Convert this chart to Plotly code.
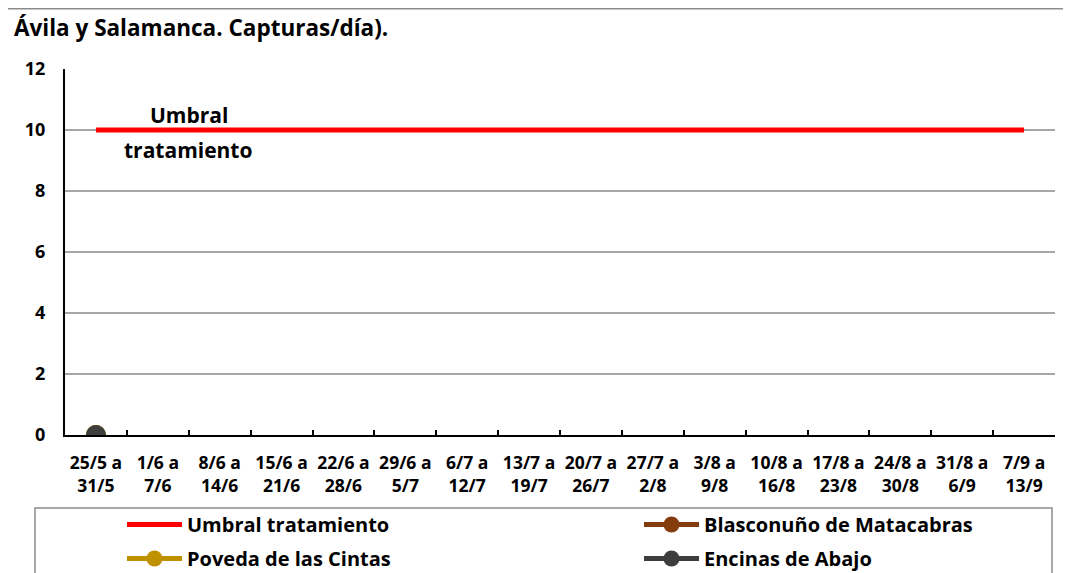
import plotly.graph_objects as go

# Semanas de muestreo (eje X)
semanas = [
    "25/5 a<br>31/5", "1/6 a<br>7/6", "8/6 a<br>14/6", "15/6 a<br>21/6",
    "22/6 a<br>28/6", "29/6 a<br>5/7", "6/7 a<br>12/7", "13/7 a<br>19/7",
    "20/7 a<br>26/7", "27/7 a<br>2/8", "3/8 a<br>9/8", "10/8 a<br>16/8",
    "17/8 a<br>23/8", "24/8 a<br>30/8", "31/8 a<br>6/9", "7/9 a<br>13/9",
]

# Capturas/día por localidad
umbral = [10, 10, 10, 10, 10, 10, 10, 10, 10, 10, 10, 10, 10, 10, 10, 10]
blasconuno = [0, None, None, None, None, None, None, None,
              None, None, None, None, None, None, None, None]
poveda = [0, None, None, None, None, None, None, None,
          None, None, None, None, None, None, None, None]
encinas = [0, None, None, None, None, None, None, None,
           None, None, None, None, None, None, None, None]

y_ticks = [0, 2, 4, 6, 8, 10, 12]

FONT = "Open Sans"
OFF = 8  # margen del body de la página
W, H = 1071 - OFF, 573 - OFF
L, R, T, B = 65 - OFF, 16, 69 - OFF, 573 - 435
PW, PH = W - L - R, H - T - B


# posiciones medidas sobre la imagen original -> coordenadas paper
def px_x(px):
    return (px - OFF - L) / PW


def px_y(py):
    return (H - B - (py - OFF)) / PH


fig = go.Figure()
fig.add_trace(go.Scatter(x=semanas, y=umbral, name="Umbral tratamiento",
                         mode="lines", line=dict(color="#ff0000", width=5),
                         legend="legend", legendgroup="a"))
fig.add_trace(go.Scatter(x=semanas, y=blasconuno, name="Blasconuño de Matacabras",
                         mode="lines+markers",
                         line=dict(color="#843c0c", width=5),
                         marker=dict(color="#843c0c", size=20),
                         legend="legend2", legendgroup="b"))
fig.add_trace(go.Scatter(x=semanas, y=poveda, name="Poveda de las Cintas",
                         mode="lines+markers",
                         line=dict(color="#bf9000", width=5),
                         marker=dict(color="#bf9000", size=20),
                         legend="legend", legendgroup="c"))
fig.add_trace(go.Scatter(x=semanas, y=encinas, name="Encinas de Abajo",
                         mode="lines+markers",
                         line=dict(color="#3d3d3d", width=5),
                         marker=dict(color="#3d3d3d", size=20),
                         legend="legend2", legendgroup="d"))

# etiqueta del umbral
fig.add_annotation(x=1.5, y=10.49, text="Umbral", showarrow=False,
                   font=dict(size=21, color="black", family=FONT, weight="bold"))
fig.add_annotation(x=1.5, y=9.34, text="tratamiento", showarrow=False,
                   font=dict(size=21, color="black", family=FONT, weight="bold"))

# marco exterior y caja de la leyenda
fig.add_shape(type="line", xref="paper", yref="paper",
              x0=px_x(0), x1=px_x(1080), y0=px_y(8.8), y1=px_y(8.8),
              line=dict(color="#8c8c8c", width=1.5))
fig.add_shape(type="rect", xref="paper", yref="paper",
              x0=px_x(35), x1=px_x(1052), y0=px_y(508), y1=px_y(600),
              line=dict(color="#8c8c8c", width=1.5))

leg = dict(bgcolor="rgba(0,0,0,0)", xanchor="left", yanchor="top",
           itemsizing="trace", itemwidth=55, tracegroupgap=5,
           yref="container", y=1 - (505 - OFF) / H,
           font=dict(size=20, color="black", family=FONT, weight="bold"))
fig.update_layout(
    showlegend=True,
    legend=dict(leg, x=px_x(122)),
    legend2=dict(leg, x=px_x(639)),
)

fig.update_layout(
    width=W, height=H,
    margin=dict(l=L, r=R, t=T, b=B),
    paper_bgcolor="white", plot_bgcolor="white",
    font=dict(family=FONT, color="black", weight="bold"),
    title=dict(text="Ávila y Salamanca. Capturas/día).",
               x=(14 - OFF) / W, xanchor="left", y=1 - (28 - OFF) / H,
               yanchor="middle",
               font=dict(size=22.5, family=FONT, color="black", weight="bold")),
    xaxis=dict(type="category", range=[-0.5, 15.5], showgrid=False,
               showline=True, linecolor="black", linewidth=2,
               ticks="inside", tickson="boundaries", ticklen=5,
               tickcolor="black", tickwidth=1.5, tickangle=0,
               automargin=False,
               tickfont=dict(size=17.5), ticklabelstandoff=11),
    yaxis=dict(range=[0, 12], tickvals=y_ticks, showgrid=True,
               gridcolor="#a6a6a6", gridwidth=1.5, automargin=False,
               showline=True, linecolor="black", linewidth=2,
               zeroline=False, tickfont=dict(size=18),
               ticklabelstandoff=14),
)

fig.write_html("out.html")
